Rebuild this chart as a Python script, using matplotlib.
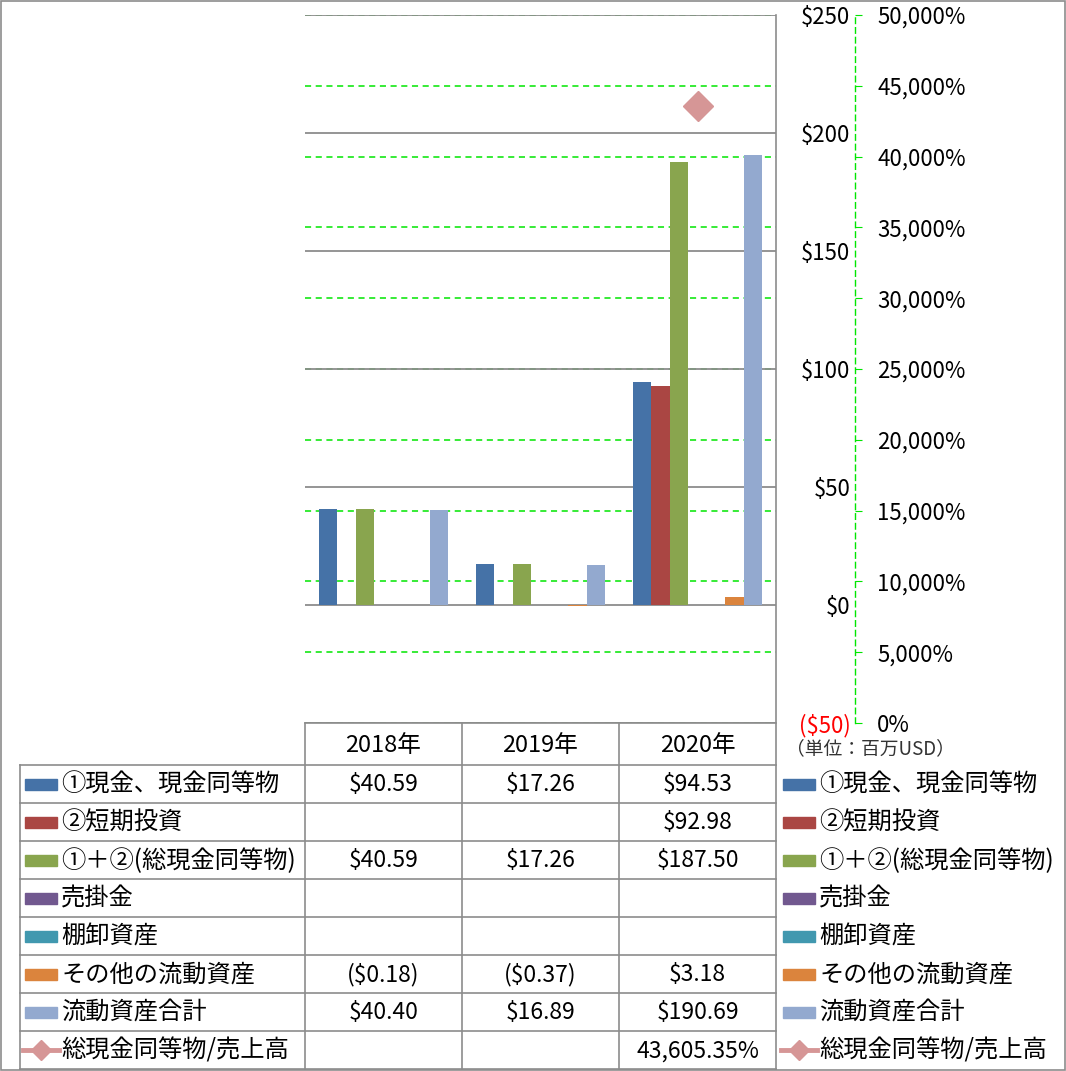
import numpy as np
import matplotlib
matplotlib.use('Agg')
import matplotlib.pyplot as plt
from matplotlib.patches import Rectangle
from matplotlib.lines import Line2D

plt.rcParams['font.family'] = ['Noto Sans CJK JP', 'DejaVu Sans']

# data
years = ['2018年', '2019年', '2020年']
series_names = ['①現金、現金同等物', '②短期投資', '①＋②(総現金同等物)', '売掛金',
                '棚卸資産', 'その他の流動資産', '流動資産合計']
cash = [40.59, 17.26, 94.53]
short_inv = [None, None, 92.98]
total_cash = [40.59, 17.26, 187.50]
receivables = [None, None, None]
inventory = [None, None, None]
other_current = [-0.18, -0.37, 3.18]
total_current = [40.40, 16.89, 190.69]
ratio_name = '総現金同等物/売上高'
cash_to_sales = [None, None, 43605.35]

colors = ['#4572A7', '#AA4643', '#89A54E', '#71588F', '#4198AF', '#DB843D', '#93A9CF']
ratio_color = '#D69696'
grid_green = '#00E600'
line_gray = '#8C8C8C'

series = [cash, short_inv, total_cash, receivables, inventory, other_current, total_current]


def nums(vals):
    return np.array([np.nan if v is None else v for v in vals], dtype=float)


def money(v):
    if v is None:
        return ''
    if v < 0:
        return f'(${-v:,.2f})'
    return f'${v:,.2f}'


W, H = 1066, 1071
fig = plt.figure(figsize=(W / 100, H / 100), dpi=100)

# plot area: percentage axis underneath, dollar axis (bars) on top
rect = [305 / W, 1 - 723 / H, 471 / W, 708 / H]
axp = fig.add_axes(rect)
axd = axp.twinx()

axp.set_xlim(-0.5, 2.5)
axp.set_ylim(0, 50000)
axp.set_yticks(np.arange(0, 50001, 5000))
axp.set_yticklabels([f'{t:,}%' for t in range(0, 50001, 5000)])
axp.set_xticks([])
axp.grid(axis='y', color=grid_green, ls=(0, (4, 3)), lw=1.1)
for s in ['left', 'top', 'bottom']:
    axp.spines[s].set_visible(False)
axp.spines['right'].set_visible(True)
axp.spines['right'].set_position(('axes', (855 - 305) / 471))
axp.spines['right'].set_color(grid_green)
axp.spines['right'].set_linestyle((0, (4, 3)))
axp.spines['right'].set_linewidth(1.0)
axp.yaxis.tick_right()
axp.yaxis.set_label_position('right')
axp.tick_params(axis='y', direction='out', length=5, color=grid_green, pad=11,
                labelsize=16)
axp.plot(range(len(years)), nums(cash_to_sales), marker='D', markersize=15,
         color=ratio_color, lw=0, zorder=5)

axd.set_xlim(-0.5, 2.5)
axd.set_ylim(-50, 250)
yt = np.arange(-50, 251, 50)
axd.set_yticks(yt)
axd.set_yticklabels([money(float(t)).replace('.00', '') for t in yt])
axd.tick_params(axis='y', length=0, pad=53.5, labelsize=16)
for lab in axd.get_yticklabels():
    lab.set_horizontalalignment('right')
axd.get_yticklabels()[0].set_color('red')
axd.set_axisbelow(True)
axd.grid(axis='y', color=line_gray, lw=1.3)
for s in ['left', 'top', 'bottom', 'right']:
    axd.spines[s].set_visible(False)

bw = 0.118
x = np.arange(len(years))
for i, (vals, c) in enumerate(zip(series, colors)):
    axd.bar(x + (i - 3) * bw, nums(vals), width=bw, color=c, zorder=3)

# table + legend overlay
tab = fig.add_axes([0, 0, 1, 1])
tab.set_xlim(0, W)
tab.set_ylim(H, 0)
tab.axis('off')

row_top = 765
row_h = 38
col_x = [305, 462, 619, 776]
n_rows = len(series) + 1
bottom = row_top + n_rows * row_h

lk = dict(color=line_gray, lw=1.2)
tab.plot([305, 776], [723, 723], **lk)
for r in range(n_rows + 1):
    y = row_top + r * row_h
    tab.plot([20, 776], [y, y], **lk)
tab.plot([20, 20], [row_top, bottom], **lk)
for cx in col_x[:-1]:
    tab.plot([cx, cx], [723, bottom], **lk)
tab.plot([776, 776], [15, bottom], **lk)

fs = 16.5
for j, yr in enumerate(years):
    tab.text((col_x[j] + col_x[j + 1]) / 2, 745, yr, ha='center', va='center',
             fontsize=17)

labels = series_names + [ratio_name]
for r, name in enumerate(labels):
    yc = row_top + r * row_h + row_h / 2
    for lx in (25, 783):
        if r < len(series):
            tab.add_patch(Rectangle((lx, yc - 5.5), 32, 11, color=colors[r]))
        else:
            tab.add_line(Line2D([lx - 2, lx + 16, lx + 34], [yc, yc, yc],
                                color=ratio_color, lw=3.5, marker='D', markersize=10,
                                markevery=[1]))
        tab.text(lx + 36, yc + 1, name, ha='left', va='center', fontsize=17.5)
    if r < len(series):
        texts = [money(v) for v in series[r]]
    else:
        texts = ['' if v is None else f'{v:,.2f}%' for v in cash_to_sales]
    for j, t in enumerate(texts):
        tab.text((col_x[j] + col_x[j + 1]) / 2, yc + 1, t, ha='center', va='center',
                 fontsize=fs)

tab.text(870, 749, '（単位：百万USD）', ha='center', va='center', fontsize=13.5,
         color='#333333')

tab.add_patch(Rectangle((0.5, 0.5), W - 1.5, H - 1.5, fill=False, ec=line_gray, lw=1.2))

fig.savefig('out.png', dpi=100)
